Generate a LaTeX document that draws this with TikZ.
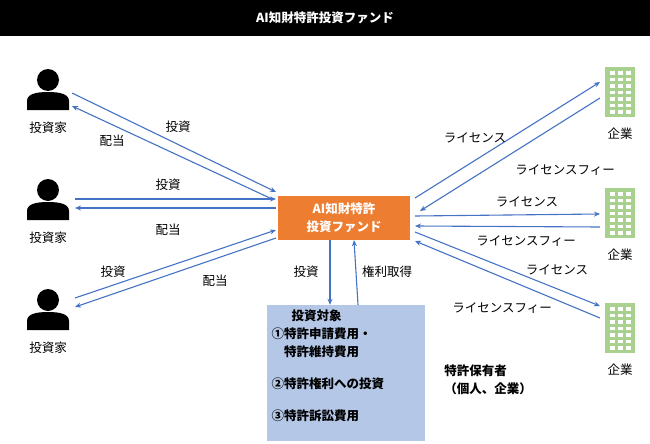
\documentclass[tikz,border=0pt]{standalone}
\usepackage{fontspec}
\setmainfont{Noto Sans CJK JP}
\usetikzlibrary{arrows.meta}
\definecolor{ablue}{HTML}{4472C4}
\definecolor{fundorange}{RGB}{237,125,49}
\definecolor{lblue}{HTML}{B4C7E7}
\definecolor{bgreen}{HTML}{A9D18E}
\begin{document}
\begin{tikzpicture}[x=1pt,y=-1pt,
  conn/.style={ablue,line width=1.1pt,-{Stealth[length=6pt,width=5pt]}},
  lab/.style={font=\fontsize{12.5}{15}\selectfont},
  bl/.style={font=\bfseries\fontsize{12.5}{18}\selectfont},
  person/.pic={\fill[black] (0,-12) circle (11);
     \fill[black] (-21,18) -- (-21,9) .. controls (-21,2) and (-12,0) .. (0,0) .. controls (12,0) and (21,2) .. (21,9) -- (21,18) -- cycle;},
  bldg/.pic={\fill[bgreen] (-15,-25) rectangle (15,25);
     \foreach \i in {0,...,6}{\foreach \j in {0,1,2}{\fill[white] (-10+\j*8,-21+\i*6.5) rectangle (-5+\j*8,-17.5+\i*6.5);}}}]
\useasboundingbox (0,0) rectangle (650,444);
\fill[black] (0,0) rectangle (650,36);
\node[white,bl] (title) at (325,18) {AI知財特許投資ファンド};
\foreach \n/\y in {1/92,2/202,3/312}{
  \pic at (48,\y) {person};
  \node[lab] (il\n) at (48,\y+36) {投資家};
  \coordinate (i\n) at (48,\y);}
\foreach \n/\y in {1/92,2/213,3/328}{
  \pic at (620,\y) {bldg};
  \node[lab] (cl\n) at (620,\y+42) {企業};
  \coordinate (c\n) at (620,\y);}
\fill[fundorange] (278,196) rectangle (410,240);
\node[text=white,bl,align=center,minimum width=132pt,minimum height=44pt] (fund) at (344,218) {AI知財特許\\投資ファンド};
\fill[lblue] (267,305) rectangle (425,441);
\node[minimum width=158pt,minimum height=136pt] (tgt) at (346,373) {};
\node[anchor=north west,bl,align=left] (tt) at (268,306) {\hspace{1.6em}投資対象\\①特許申請費用・\\\hspace{1em}特許維持費用\\[14pt]②特許権利への投資\\[14pt]③特許訴訟費用};
\node[bl,align=left] (own) at (488,380) {特許保有者\\（個人、企業）};
\coordinate (a1) at (72,93); \coordinate (b1) at (276,192);
\coordinate (a2) at (272,199); \coordinate (b2) at (72,106);
\draw[conn] (a1) -- (b1); \draw[conn] (a2) -- (b2);
\node[lab] at (178,127) {投資}; \node[lab] at (112,141) {配当};
\coordinate (a3) at (75,199); \coordinate (b3) at (276,199);
\coordinate (a4) at (276,208); \coordinate (b4) at (75,208);
\draw[conn] (a3) -- (b3); \draw[conn] (a4) -- (b4);
\node[lab] at (168,185) {投資}; \node[lab] at (168,230) {配当};
\coordinate (a5) at (75,298); \coordinate (b5) at (276,230);
\coordinate (a6) at (276,238); \coordinate (b6) at (75,307);
\draw[conn] (a5) -- (b5); \draw[conn] (a6) -- (b6);
\node[lab] at (113,272) {投資}; \node[lab] at (215,281) {配当};
\coordinate (d1) at (415,198); \coordinate (e1) at (600,82);
\coordinate (d2) at (600,98); \coordinate (e2) at (420,211);
\draw[conn] (d1) -- (e1); \draw[conn] (d2) -- (e2);
\node[lab] at (475,138) {ライセンス}; \node[lab] at (565,170) {ライセンスフィー};
\coordinate (d3) at (415,216); \coordinate (e3) at (600,214);
\coordinate (d4) at (600,227); \coordinate (e4) at (415,226);
\draw[conn] (d3) -- (e3); \draw[conn] (d4) -- (e4);
\node[lab] at (527,202) {ライセンス}; \node[lab] at (526,241) {ライセンスフィー};
\coordinate (d5) at (415,232); \coordinate (e5) at (600,306);
\coordinate (d6) at (600,318); \coordinate (e6) at (415,241);
\draw[conn] (d5) -- (e5); \draw[conn] (d6) -- (e6);
\node[lab] at (557,270) {ライセンス}; \node[lab] at (502,308) {ライセンスフィー};
\draw[conn] ([xshift=-14pt]fund.south) -- ([xshift=-16pt]tgt.north);
\draw[conn] ([xshift=12pt]tgt.north) -- ([xshift=10pt]fund.south);
\node[lab] at (306,272) {投資}; \node[lab] at (387,272) {権利取得};
\end{tikzpicture}
\end{document}
